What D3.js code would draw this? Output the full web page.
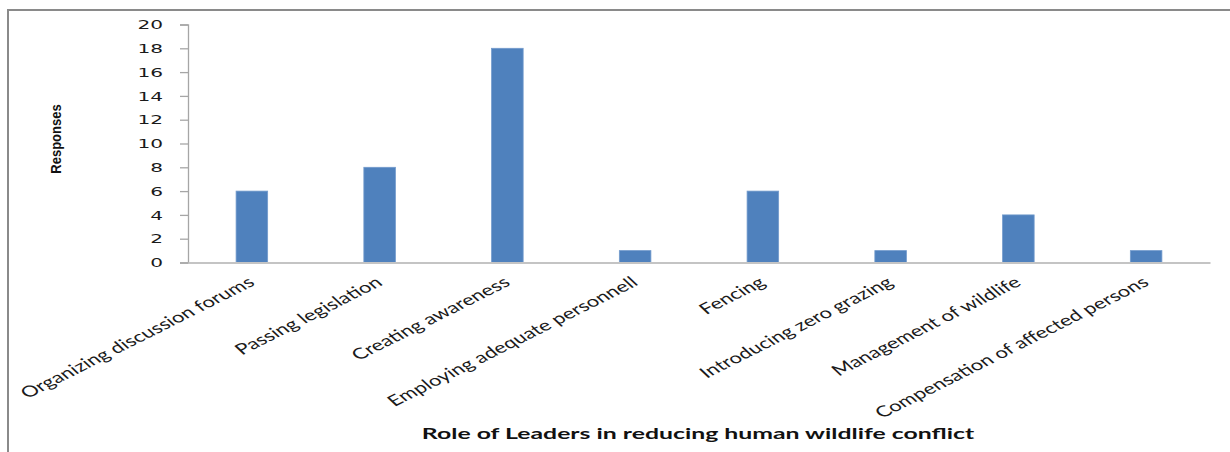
<!DOCTYPE html>
<html>
<head>
<meta charset="utf-8">
<script src="https://cdn.jsdelivr.net/npm/d3@7"></script>
<style>
  html, body { margin: 0; padding: 0; background: #fff; }
  svg { display: block; }
</style>
</head>
<body>
<svg id="chart" width="1230" height="452"></svg>
<script>
// Role of leaders in reducing human-wildlife conflict: number of responses
const categories = [
  "Organizing  discussion forums",
  "Passing legislation",
  "Creating awareness",
  "Employing adequate personnell",
  "Fencing",
  "Introducing zero grazing",
  "Management of wildlife",
  "Compensation of affected persons"
];
const responses = [6, 8, 18, 1, 6, 1, 4, 1];
const yTicks = [0, 2, 4, 6, 8, 10, 12, 14, 16, 18, 20];
const yTitle = "Responses";
const xTitle = "Role of Leaders in reducing human wildlife conflict";

const svg = d3.select("#chart");
const plot = { left: 188, right: 1210, top: 24.5, bottom: 262.5 };
const labelFont = "Lato, 'Open Sans', 'Liberation Sans', sans-serif";

// Outer frame (top and left edges)
svg.append("path")
  .attr("d", `M8,452 V10 H1230`)
  .attr("fill", "none")
  .attr("stroke", "#8a8a8a")
  .attr("stroke-width", 2);

const x = d3.scaleBand()
  .domain(categories)
  .range([plot.left, plot.right])
  .paddingInner(0.753)
  .paddingOuter(0.3765);

const y = d3.scaleLinear()
  .domain([0, 20])
  .range([plot.bottom, plot.top]);

// Bars
svg.append("g")
  .selectAll("rect")
  .data(categories)
  .join("rect")
  .attr("x", d => x(d))
  .attr("y", (d, i) => y(responses[i]))
  .attr("width", x.bandwidth())
  .attr("height", (d, i) => y(0) - y(responses[i]))
  .attr("fill", "#4f81bd")
  .attr("stroke", "#739bcc")
  .attr("stroke-width", 0.8);

// Y axis
const yAxis = d3.axisLeft(y)
  .tickValues(yTicks)
  .tickSize(8)
  .tickFormat(d3.format("d"));

const gy = svg.append("g")
  .attr("transform", `translate(${plot.left},0)`)
  .call(yAxis);
gy.select(".domain").attr("stroke", "#a6a6a6").attr("stroke-width", 1.3);
gy.selectAll(".tick line").attr("stroke", "#a6a6a6").attr("stroke-width", 1.3);
gy.selectAll(".tick text")
  .attr("x", 0)
  .attr("dy", "0.36em")
  .attr("text-anchor", "end")
  .attr("transform", "translate(-25,0) scale(1.75,1)")
  .attr("fill", "#1a1a1a")
  .style("font-family", "'DejaVu Sans', Verdana, sans-serif")
  .style("font-size", "11.5px");

// X axis baseline and slanted category labels
const xAxis = d3.axisBottom(x).tickSize(0).tickPadding(0);
const gx = svg.append("g")
  .attr("transform", `translate(0,${plot.bottom})`)
  .call(xAxis);
gx.select(".domain").attr("stroke", "#c4c4c4").attr("stroke-width", 2);
gx.selectAll(".tick text")
  .attr("fill", "#1a1a1a")
  .style("font-family", labelFont)
  .style("font-size", "15.2px")
  .attr("text-anchor", "end")
  .attr("dy", null)
  .attr("y", 0)
  .attr("transform", "translate(4,22) scale(1.45,1) rotate(-36)");

// Axis titles
svg.append("text")
  .attr("transform", "translate(61,139) rotate(-90) scale(1,1.15)")
  .attr("text-anchor", "middle")
  .style("font-family", "'Liberation Sans', Arial, sans-serif")
  .style("font-weight", "bold")
  .style("font-size", "13px")
  .attr("fill", "#111")
  .text(yTitle);

svg.append("text")
  .attr("transform", "translate(698,439) scale(1.55,1)")
  .attr("text-anchor", "middle")
  .style("font-family", labelFont)
  .style("font-weight", "bold")
  .style("font-size", "16px")
  .attr("fill", "#111")
  .text(xTitle);
</script>
</body>
</html>
